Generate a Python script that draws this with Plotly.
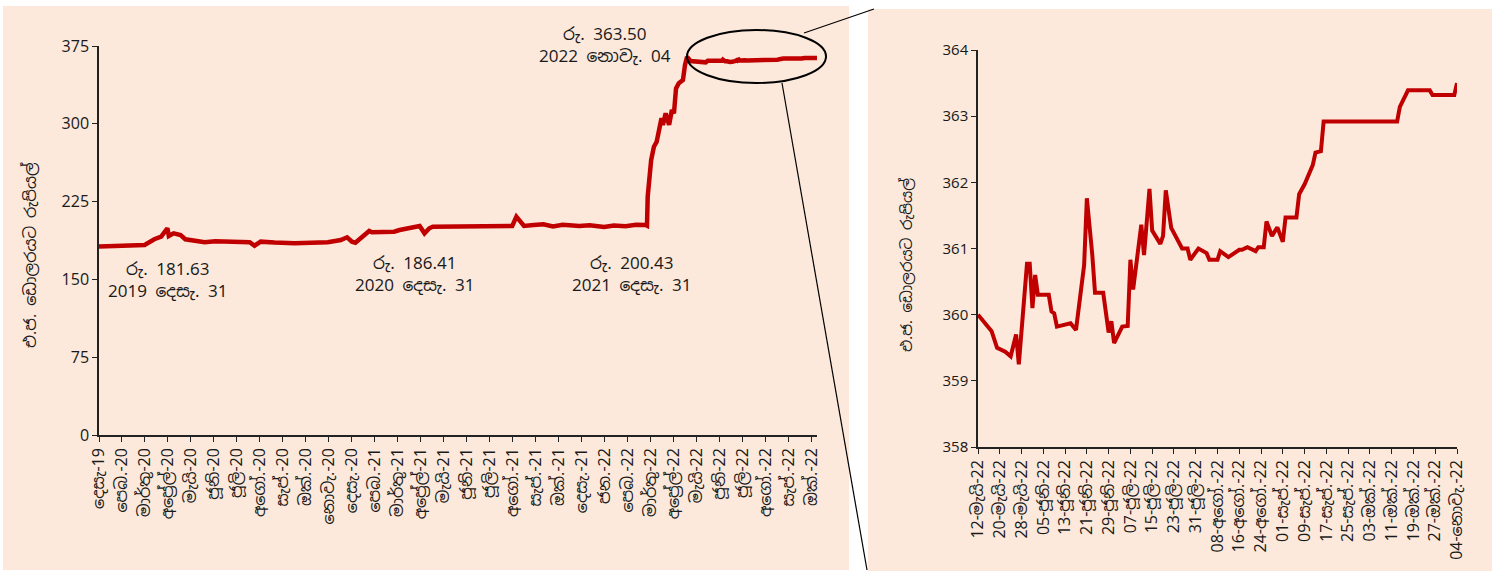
import pandas as pd
import plotly.graph_objects as go

# ---------------- data ----------------
early_dates = [
    "2019-12-31", "2020-02-10", "2020-03-06", "2020-03-20", "2020-03-30", "2020-04-08",
    "2020-04-10", "2020-04-17", "2020-04-27", "2020-05-04", "2020-06-01", "2020-06-16",
    "2020-07-10", "2020-08-05", "2020-08-12", "2020-08-21", "2020-09-10", "2020-10-09",
    "2020-11-26", "2020-12-15", "2020-12-24", "2020-12-31", "2021-01-05", "2021-01-15",
    "2021-01-25", "2021-01-29", "2021-03-02", "2021-03-10", "2021-04-08", "2021-04-15",
    "2021-04-22", "2021-04-27", "2021-06-15", "2021-08-20", "2021-08-26", "2021-09-02",
    "2021-09-06", "2021-09-20", "2021-10-04", "2021-10-18", "2021-11-01", "2021-11-25",
    "2021-12-10", "2021-12-31", "2022-01-14", "2022-01-31", "2022-02-15", "2022-03-01",
    "2022-03-03", "2022-03-04", "2022-03-07", "2022-03-09", "2022-03-13", "2022-03-17",
    "2022-03-21", "2022-03-24", "2022-03-26", "2022-03-30", "2022-04-04", "2022-04-08",
    "2022-04-11", "2022-04-14", "2022-04-18", "2022-04-24", "2022-04-27", "2022-04-30",
    "2022-05-05",
]
early_values = [
    181.63, 182.0, 183.2, 188.7, 191.2, 199.3,
    191.8, 194.4, 192.8, 188.7, 185.8, 186.7,
    186.2, 185.8, 182.5, 186.4, 185.5, 184.8,
    185.8, 188.0, 190.6, 186.41, 185.4, 191.2,
    196.7, 195.4, 196.0, 197.6, 201.5, 194.4,
    199.3, 200.8, 201.3, 201.5, 210.5, 205.6,
    201.5, 202.5, 203.1, 201.0, 202.6, 201.5,
    202.3, 200.43, 202.0, 201.2, 202.6, 202.4,
    201.8, 229.7, 249.0, 265.1, 277.9, 282.7,
    295.7, 305.3, 298.9, 310.1, 298.9, 313.3,
    310.1, 334.2, 339.1, 342.2, 356.7, 364.5,
    360.5,
]

zoom_dates = [
    "2022-05-12", "2022-05-17", "2022-05-19", "2022-05-22", "2022-05-24", "2022-05-26",
    "2022-05-27", "2022-05-30", "2022-05-31", "2022-06-01", "2022-06-02", "2022-06-03",
    "2022-06-07", "2022-06-08", "2022-06-09", "2022-06-10", "2022-06-15", "2022-06-17",
    "2022-06-20", "2022-06-21", "2022-06-23", "2022-06-24", "2022-06-27", "2022-06-29",
    "2022-06-30", "2022-07-01", "2022-07-04", "2022-07-06", "2022-07-07", "2022-07-08",
    "2022-07-11", "2022-07-12", "2022-07-14", "2022-07-15", "2022-07-18", "2022-07-19",
    "2022-07-20", "2022-07-22", "2022-07-26", "2022-07-28", "2022-07-29", "2022-08-01",
    "2022-08-04", "2022-08-05", "2022-08-08", "2022-08-09", "2022-08-12", "2022-08-16",
    "2022-08-17", "2022-08-19", "2022-08-22", "2022-08-23", "2022-08-25", "2022-08-26",
    "2022-08-28", "2022-08-30", "2022-09-01", "2022-09-02", "2022-09-06", "2022-09-07",
    "2022-09-09", "2022-09-12", "2022-09-13", "2022-09-15", "2022-09-16", "2022-10-13",
    "2022-10-14", "2022-10-17", "2022-10-25", "2022-10-26", "2022-11-03", "2022-11-04",
]
zoom_values = [
    360.00, 359.75, 359.50, 359.44, 359.37, 359.70,
    359.25, 360.77, 360.77, 360.10, 360.60, 360.30,
    360.30, 360.05, 360.02, 359.82, 359.87, 359.77,
    360.75, 361.76, 360.90, 360.33, 360.33, 359.73,
    359.90, 359.57, 359.82, 359.83, 360.83, 360.38,
    361.36, 360.90, 361.90, 361.27, 361.07, 361.19,
    361.88, 361.31, 361.00, 361.00, 360.83, 361.00,
    360.93, 360.83, 360.83, 360.96, 360.87, 360.98,
    360.98, 361.02, 360.96, 361.02, 361.02, 361.41,
    361.19, 361.32, 361.10, 361.47, 361.47, 361.82,
    361.97, 362.26, 362.45, 362.47, 362.92, 362.92,
    363.14, 363.39, 363.39, 363.32, 363.32, 363.50,
]

left_tick_labels = [
    "දෙසැ-19", "පෙබ.-20", "මාර්තු-20", "අප්‍රේල්-20", "මැයි-20", "ජූනි-20", "ජූලි-20",
    "අගෝ.-20", "සැප්.-20", "ඔක්.-20", "නොවැ.-20", "දෙසැ.-20", "පෙබ.-21", "මාර්තු-21",
    "අප්‍රේල්-21", "මැයි-21", "ජූනි-21", "ජූලි-21", "අගෝ.-21", "සැප්.-21", "ඔක්.-21",
    "දෙසැ.-21", "ජන.-22", "පෙබ.-22", "මාර්තු-22", "අප්‍රේල්-22", "මැයි-22", "ජූනි-22",
    "ජූලි-22", "අගෝ.-22", "සැප්.-22", "ඔක්.-22",
]
right_tick_labels = [
    "12-මැයි-22", "20-මැයි-22", "28-මැයි-22", "05-ජූනි-22", "13-ජූනි-22", "21-ජූනි-22",
    "29-ජූනි-22", "07-ජූලි-22", "15-ජූලි-22", "23-ජූලි-22", "31-ජූලි-22", "08-අගෝ.-22",
    "16-අගෝ.-22", "24-අගෝ.-22", "01-සැප්.-22", "09-සැප්.-22", "17-සැප්.-22", "25-සැප්.-22",
    "03-ඔක්.-22", "11-ඔක්.-22", "19-ඔක්.-22", "27-ඔක්.-22", "04-නොවැ.-22",
]
left_y_ticks = [0, 75, 150, 225, 300, 375]
right_y_ticks = [358, 359, 360, 361, 362, 363, 364]

y_title = "එ.ජ. ඩොලරයට රුපියල්"
notes = [
    ("2019-12-31", "රු. 181.63<br>2019 දෙසැ. 31"),
    ("2020-12-31", "රු. 186.41<br>2020 දෙසැ. 31"),
    ("2021-12-31", "රු. 200.43<br>2021 දෙසැ. 31"),
    ("2022-11-04", "රු. 363.50<br>2022 නොවැ. 04"),
]

# ---------------- layout helpers ----------------
W, H = 1492, 571
def px(x):
    return x / W
def py(y):
    return 1 - y / H

FONT = "Noto Sans Sinhala, Noto Sans, Open Sans, sans-serif"
BG = "#FCE9DB"
RED = "#C00000"

all_dates = pd.to_datetime(early_dates + zoom_dates)
all_values = early_values + zoom_values
zd = pd.to_datetime(zoom_dates)

left_ticks = pd.date_range("2019-12-31", "2022-10-27", periods=len(left_tick_labels))
right_ticks = pd.date_range(zd[0], zd[-1], freq="8D")

fig = go.Figure()
fig.add_trace(go.Scatter(x=all_dates, y=all_values, mode="lines",
                         line=dict(color=RED, width=4.5), xaxis="x", yaxis="y",
                         showlegend=False, hoverinfo="x+y"))
fig.add_trace(go.Scatter(x=zd, y=zoom_values, mode="lines",
                         line=dict(color=RED, width=4), xaxis="x2", yaxis="y2",
                         showlegend=False, hoverinfo="x+y"))

axis_common = dict(showgrid=False, zeroline=False, showline=True, ticks="outside",
                   ticklen=5, tickwidth=1.3, tickcolor="#222", linecolor="#222",
                   linewidth=1.5, automargin=False)

fig.update_layout(
    width=W, height=H, autosize=False,
    margin=dict(l=0, r=0, t=0, b=0, pad=0, autoexpand=False),
    paper_bgcolor="white", plot_bgcolor="rgba(0,0,0,0)",
    font=dict(family=FONT, color="#1a1a1a"),
    xaxis=dict(domain=[px(99), px(817)], anchor="y", type="date",
               range=[all_dates[0], all_dates[-1]],
               tickvals=left_ticks, ticktext=left_tick_labels, tickangle=-90,
               tickfont=dict(size=16, family=FONT), **axis_common),
    yaxis=dict(domain=[py(435), py(46)], anchor="x", range=[0, 375],
               tickvals=left_y_ticks, tickfont=dict(size=16, family=FONT), **axis_common),
    xaxis2=dict(domain=[px(978), px(1457)], anchor="y2", type="date",
                range=[zd[0], zd[-1]],
                tickvals=right_ticks, ticktext=right_tick_labels, tickangle=-90,
                tickfont=dict(size=16, family=FONT), **axis_common),
    yaxis2=dict(domain=[py(447), py(50)], anchor="x2", range=[358, 364],
                tickvals=right_y_ticks, tickfont=dict(size=15, family=FONT), **axis_common),
)

shapes = [
    dict(type="rect", xref="paper", yref="paper", x0=px(3), x1=px(849), y0=py(570), y1=py(6),
         fillcolor=BG, line=dict(width=0), layer="below"),
    dict(type="rect", xref="paper", yref="paper", x0=px(868), x1=px(1492), y0=py(571), y1=py(9),
         fillcolor=BG, line=dict(width=0), layer="below"),
    dict(type="circle", xref="paper", yref="paper", x0=px(687), x1=px(826), y0=py(83), y1=py(30),
         line=dict(color="black", width=2), fillcolor="rgba(0,0,0,0)", layer="above"),
    dict(type="line", xref="paper", yref="paper", x0=px(804), y0=py(33), x1=px(874), y1=py(9),
         line=dict(color="black", width=1.2)),
    dict(type="line", xref="paper", yref="paper", x0=px(782), y0=py(83), x1=px(867), y1=py(570),
         line=dict(color="black", width=1.2)),
]
fig.update_layout(shapes=shapes)

ann = []
note_pos = [(168, 280), (415, 274), (632, 274), (605, 45)]
for (d, txt), (ax_, ay_) in zip(notes, note_pos):
    ann.append(dict(xref="paper", yref="paper", x=px(ax_), y=py(ay_), text=txt,
                    showarrow=False, align="center", xanchor="center", yanchor="middle",
                    font=dict(size=17, family=FONT, color="#1a1a1a")))
ann.append(dict(xref="paper", yref="paper", x=px(30), y=py(255), text=y_title, textangle=-90,
                showarrow=False, xanchor="center", yanchor="middle",
                font=dict(size=16, family=FONT, color="#1a1a1a")))
ann.append(dict(xref="paper", yref="paper", x=px(907), y=py(265), text=y_title, textangle=-90,
                showarrow=False, xanchor="center", yanchor="middle",
                font=dict(size=15, family=FONT, color="#1a1a1a")))
fig.update_layout(annotations=ann)

fig.write_html("out.html", config={"displayModeBar": False},
               post_script="document.body.style.margin='0';document.body.style.overflow='hidden';")
